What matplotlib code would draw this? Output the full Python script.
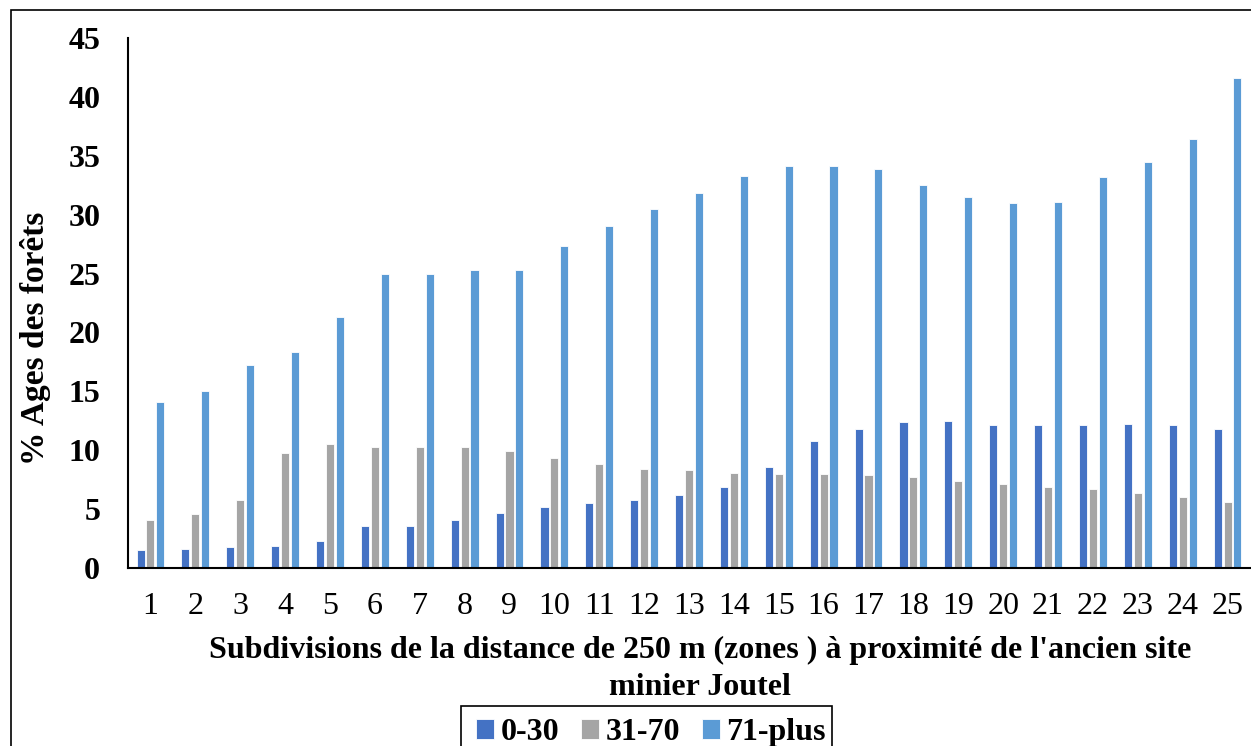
import numpy as np
import matplotlib
matplotlib.use("Agg")
from matplotlib import pyplot as plt
from matplotlib.patches import Rectangle

# values
zones = list(range(1, 26))
age_0_30 = [1.5, 1.6, 1.8, 1.9, 2.3, 3.6, 3.6, 4.1, 4.7, 5.2, 5.5, 5.8, 6.2,
            6.9, 8.6, 10.8, 11.8, 12.4, 12.5, 12.1, 12.1, 12.1, 12.2, 12.1, 11.8]
age_31_70 = [4.1, 4.6, 5.8, 9.8, 10.5, 10.3, 10.3, 10.3, 9.9, 9.3, 8.8, 8.4, 8.3,
             8.1, 8.0, 8.0, 7.9, 7.7, 7.4, 7.1, 6.9, 6.7, 6.4, 6.0, 5.6]
age_71_plus = [14.1, 15.0, 17.2, 18.3, 21.3, 25.0, 25.0, 25.3, 25.3, 27.3, 29.0,
               30.5, 31.8, 33.3, 34.1, 34.1, 33.9, 32.5, 31.5, 31.0, 31.1, 33.2,
               34.5, 36.4, 41.6]
series_names = ["0-30", "31-70", "71-plus"]
colors = ["#4472C4", "#A5A5A5", "#5B9BD5"]

plt.rcParams["font.family"] = ["Liberation Serif", "DejaVu Serif"]
FS = 23

W, H = 1251, 746
fig = plt.figure(figsize=(W / 100, H / 100), dpi=100)

# outer chart border (cut by the image on the right and bottom)
fig.patches.append(Rectangle((11 / W, -0.02), 1.05, 1 - 10 / H + 0.02,
                             transform=fig.transFigure, fill=False,
                             edgecolor="black", linewidth=1.2))

ax = fig.add_axes([128 / W, (H - 568) / H, (1250 - 128) / W, (568 - 38) / H])

x = np.array(zones)
bw = 0.18
step = 0.22
for i, vals in enumerate([age_0_30, age_31_70, age_71_plus]):
    ax.bar(x + (i - 1) * step, vals, width=bw, color=colors[i],
           edgecolor="white", linewidth=0.6, label=series_names[i])

ax.set_xlim(0.5, 25.5)
ax.set_ylim(0, 45)
ax.set_yticks(range(0, 46, 5))
ax.set_xticks(zones)
ax.tick_params(axis="both", length=0, labelsize=FS)
ax.tick_params(axis="y", pad=20)
ax.tick_params(axis="x", pad=17)
for lab in ax.get_yticklabels():
    lab.set_fontweight("bold")

for s in ["top", "right"]:
    ax.spines[s].set_visible(False)
for s in ["left", "bottom"]:
    ax.spines[s].set_linewidth(1.5)

ax.set_ylabel("% Ages des forêts", fontsize=24, fontweight="bold")
ax.yaxis.set_label_coords((51 - 128) / 1122, (568 - 338) / 530)
ax.set_xlabel("Subdivisions de la distance de 250 m (zones ) à proximité de l'ancien site\nminier Joutel",
              fontsize=FS, fontweight="bold", linespacing=1.38)
ax.xaxis.set_label_coords((700 - 128) / 1122, (568 - 636) / 530)

leg = fig.legend(loc="upper center", bbox_to_anchor=(651 / W, 1 - 712 / H),
                 ncol=3, frameon=False, prop={"weight": "bold", "size": FS},
                 handlelength=0.55, handleheight=0.55, handletextpad=0.2,
                 columnspacing=0.7, borderpad=0.2, borderaxespad=0)
# legend box, running past the bottom edge like in the original
fig.patches.append(Rectangle((461 / W, -0.02), (832 - 461) / W, 0.02 + (H - 706) / H,
                             transform=fig.transFigure, fill=False,
                             edgecolor="black", linewidth=1.2))

fig.savefig("out.png", dpi=100)
